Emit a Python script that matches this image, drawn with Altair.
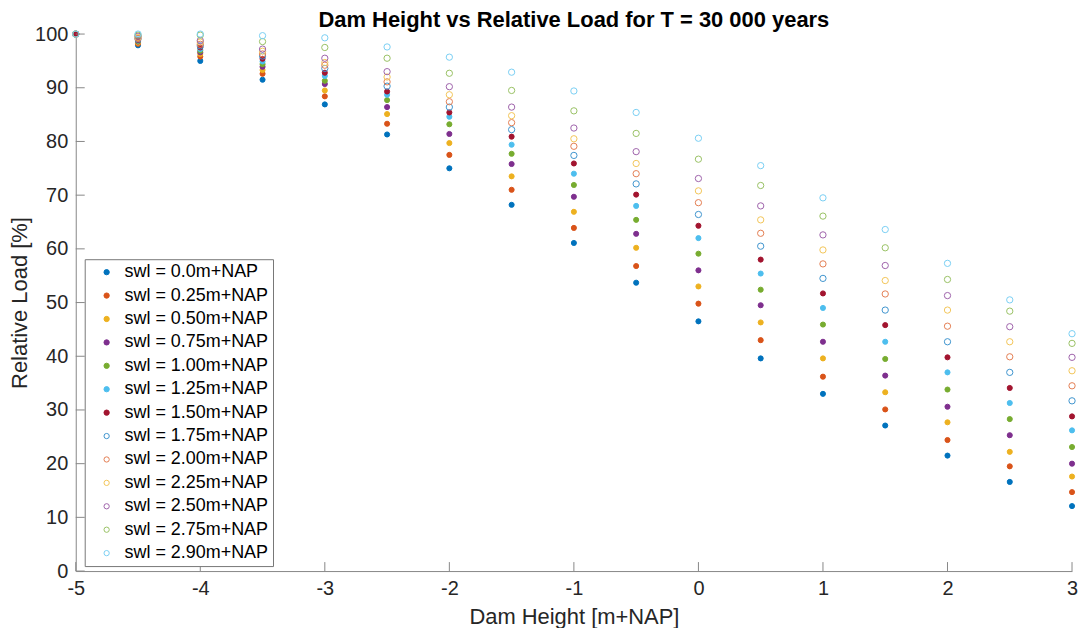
import altair as alt
import pandas as pd

dam_height = [-5, -4.5, -4, -3.5, -3, -2.5, -2, -1.5, -1, -0.5, 0, 0.5, 1, 1.5, 2, 2.5, 3]

series_labels = [
    "swl = 0.0m+NAP", "swl = 0.25m+NAP", "swl = 0.50m+NAP", "swl = 0.75m+NAP",
    "swl = 1.00m+NAP", "swl = 1.25m+NAP", "swl = 1.50m+NAP", "swl = 1.75m+NAP",
    "swl = 2.00m+NAP", "swl = 2.25m+NAP", "swl = 2.50m+NAP", "swl = 2.75m+NAP",
    "swl = 2.90m+NAP",
]
series_kind = ["filled"] * 7 + ["open"] * 6

swl_000 = [100, 97.9, 95.0, 91.5, 86.9, 81.3, 75.0, 68.2, 61.1, 53.7, 46.5, 39.6, 33.0, 27.1, 21.5, 16.6, 12.1]
swl_025 = [100, 98.2, 95.8, 92.6, 88.4, 83.3, 77.5, 71.0, 63.9, 56.8, 49.8, 43.0, 36.2, 30.1, 24.4, 19.5, 14.7]
swl_050 = [100, 98.4, 96.3, 93.3, 89.5, 85.1, 79.7, 73.5, 66.9, 60.2, 53.0, 46.3, 39.6, 33.3, 27.7, 22.2, 17.6]
swl_075 = [100, 98.6, 96.6, 93.9, 90.7, 86.4, 81.4, 75.8, 69.7, 62.8, 56.0, 49.5, 42.7, 36.4, 30.6, 25.3, 20.0]
swl_100 = [100, 98.7, 96.9, 94.4, 91.3, 87.7, 83.2, 77.7, 71.9, 65.4, 59.1, 52.4, 45.9, 39.5, 33.8, 28.3, 23.1]
swl_125 = [100, 98.8, 97.2, 94.9, 92.2, 88.7, 84.6, 79.4, 74.0, 68.0, 62.0, 55.4, 49.0, 42.7, 37.0, 31.3, 26.2]
swl_150 = [100, 98.9, 97.5, 95.4, 92.8, 89.3, 85.4, 80.9, 75.9, 70.1, 64.3, 58.0, 51.7, 45.8, 39.8, 34.1, 28.8]
swl_175 = [100, 99.1, 97.8, 95.9, 93.6, 90.3, 86.4, 82.2, 77.4, 72.1, 66.4, 60.5, 54.5, 48.6, 42.7, 37.0, 31.7]
swl_200 = [100, 99.2, 98.1, 96.3, 94.2, 91.1, 87.4, 83.5, 79.1, 74.0, 68.6, 62.9, 57.2, 51.6, 45.6, 39.9, 34.5]
swl_225 = [100, 99.4, 98.5, 96.8, 94.7, 92.0, 88.7, 84.8, 80.5, 75.9, 70.8, 65.4, 59.8, 54.1, 48.6, 42.7, 37.3]
swl_250 = [100, 99.6, 98.8, 97.2, 95.5, 93.0, 90.2, 86.4, 82.5, 78.1, 73.1, 68.0, 62.6, 56.9, 51.3, 45.5, 39.8]
swl_275 = [100, 99.8, 99.8, 98.6, 97.5, 95.5, 92.7, 89.5, 85.7, 81.5, 76.7, 71.8, 66.1, 60.2, 54.3, 48.4, 42.4]
swl_290 = [100, 100, 100, 99.7, 99.3, 97.6, 95.7, 92.9, 89.4, 85.4, 80.6, 75.5, 69.5, 63.6, 57.3, 50.5, 44.2]

series_values = [swl_000, swl_025, swl_050, swl_075, swl_100, swl_125, swl_150,
                 swl_175, swl_200, swl_225, swl_250, swl_275, swl_290]

stroke_colors = ["#0072BD", "#D95319", "#EDB120", "#7E2F8E", "#77AC30", "#4DBEEE", "#A2142F",
                 "#4095CE", "#E37E53", "#F2C558", "#9F63AB", "#99C164", "#7ACFF3"]
fill_colors = ["#0072BD", "#D95319", "#EDB120", "#7E2F8E", "#77AC30", "#4DBEEE", "#A2142F",
               "transparent", "transparent", "transparent", "transparent", "transparent", "transparent"]

x_tick_values = [-5, -4, -3, -2, -1, 0, 1, 2, 3]
y_tick_values = [0, 10, 20, 30, 40, 50, 60, 70, 80, 90, 100]

rows = []
for order, (lab, kind, vals) in enumerate(zip(series_labels, series_kind, series_values)):
    for xv, yv in zip(dam_height, vals):
        rows.append({"dam_height": xv, "load": yv, "series": lab, "kind": kind, "order": order})
df = pd.DataFrame(rows)

W, H = 1000, 539
FONT = "Liberation Sans"
TICK_LEN = 9

xscale = alt.Scale(domain=[-5, 3], nice=False, zero=False)
yscale = alt.Scale(domain=[0, 100], nice=False)
xaxis = alt.Axis(title="Dam Height [m+NAP]", values=x_tick_values,
                 labelExpr="'' + datum.value", labelFlush=False)
yaxis = alt.Axis(title="Relative Load [%]", values=y_tick_values,
                 labelExpr="'' + datum.value", labelFlush=False)

points = alt.Chart(df).mark_point(shape="circle", opacity=1, strokeWidth=1).encode(
    x=alt.X("dam_height:Q", scale=xscale, axis=xaxis),
    y=alt.Y("load:Q", scale=yscale, axis=yaxis),
    stroke=alt.Stroke("series:N", scale=alt.Scale(domain=series_labels, range=stroke_colors),
                      legend=alt.Legend(title=None)),
    fill=alt.Fill("series:N", scale=alt.Scale(domain=series_labels, range=fill_colors),
                  legend=alt.Legend(title=None)),
    size=alt.Size("kind:N", scale=alt.Scale(domain=["filled", "open"], range=[26, 40]), legend=None),
    order=alt.Order("order:Q"),
)

xticks = alt.Chart(pd.DataFrame({"dam_height": x_tick_values})).mark_rule(
    color="#888888", strokeWidth=1
).encode(
    x=alt.X("dam_height:Q", scale=xscale, axis=xaxis),
    y=alt.value(H),
    y2=alt.value(H - TICK_LEN),
)

yticks = alt.Chart(pd.DataFrame({"load": y_tick_values})).mark_rule(
    color="#888888", strokeWidth=1
).encode(
    y=alt.Y("load:Q", scale=yscale, axis=yaxis),
    x=alt.value(0),
    x2=alt.value(TICK_LEN),
)

chart = alt.layer(points, xticks, yticks).properties(
    width=W,
    height=H,
    autosize=alt.AutoSizeParams(type="none"),
    padding={"left": 68, "top": 25, "right": 8, "bottom": 56},
    title=alt.TitleParams(
        "Dam Height vs Relative Load for T = 30 000 years",
        font=FONT, fontSize=22, fontWeight="bold", color="#000000",
        anchor="middle", offset=1, dy=9,
    ),
).configure_view(
    strokeWidth=0
).configure_axis(
    domainColor="#888888",
    domainWidth=1,
    ticks=False,
    grid=False,
    labelFont=FONT,
    labelFontSize=20,
    labelColor="#262626",
    titleFont=FONT,
    titleFontSize=22,
    titleFontWeight="normal",
    titleColor="#262626",
).configure_axisX(
    labelPadding=8,
    titlePadding=8,
).configure_axisY(
    labelPadding=8,
    titlePadding=3,
).configure_legend(
    orient="none",
    legendX=9,
    legendY=226,
    padding=4,
    rowPadding=5.5,
    fillColor="white",
    strokeColor="#777777",
    labelFont=FONT,
    labelFontSize=18,
    labelColor="#000000",
    labelOffset=9,
    symbolOffset=9,
    symbolSize=28,
    symbolStrokeWidth=1,
    symbolType="circle",
)

chart.save("out.html", embed_options={"renderer": "svg", "actions": False})
